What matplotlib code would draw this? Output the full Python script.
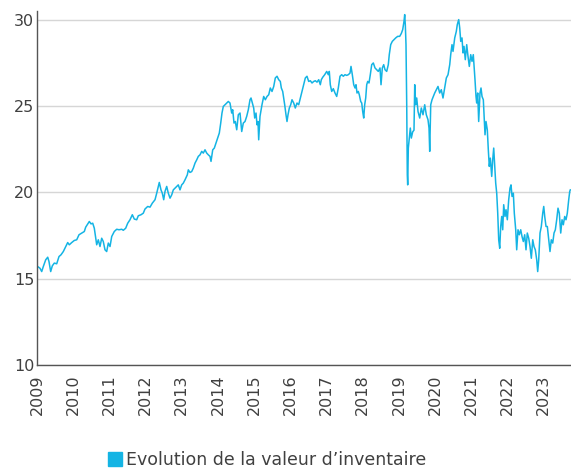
import matplotlib
matplotlib.use("Agg")
import matplotlib.pyplot as plt
import matplotlib.patches as mpatches

# NAV history, dates as decimal years
years = [
    2009.019, 2009.083, 2009.130, 2009.174, 2009.240, 2009.296, 2009.331, 2009.378,
    2009.423, 2009.478, 2009.544, 2009.608, 2009.663, 2009.727, 2009.793, 2009.848,
    2009.892, 2009.959, 2010.030, 2010.097, 2010.160, 2010.235, 2010.307, 2010.345,
    2010.401, 2010.445, 2010.492, 2010.539, 2010.583, 2010.622, 2010.649, 2010.693,
    2010.740, 2010.787, 2010.831, 2010.878, 2010.925, 2010.970, 2011.017,
    2011.064, 2011.135, 2011.202, 2011.265, 2011.340, 2011.384, 2011.450, 2011.506,
    2011.569, 2011.633, 2011.688, 2011.754, 2011.798, 2011.873, 2011.936, 2011.983,
    2012.058, 2012.122, 2012.185, 2012.260, 2012.307, 2012.351, 2012.378, 2012.425,
    2012.461, 2012.500, 2012.536, 2012.583, 2012.627, 2012.674, 2012.721, 2012.765,
    2012.812, 2012.859, 2012.903, 2012.950, 2012.997,
    2013.041, 2013.088, 2013.152, 2013.180, 2013.227, 2013.273, 2013.318, 2013.365,
    2013.412, 2013.456, 2013.503, 2013.550, 2013.594, 2013.641, 2013.688, 2013.732,
    2013.779, 2013.807, 2013.854, 2013.898, 2013.945, 2013.992, 2014.036, 2014.075,
    2014.110, 2014.146, 2014.193, 2014.240, 2014.285, 2014.331, 2014.378, 2014.406,
    2014.442, 2014.478, 2014.517, 2014.561, 2014.608, 2014.655, 2014.699, 2014.746,
    2014.793, 2014.837, 2014.884, 2014.912,
    2014.986, 2015.014, 2015.050, 2015.077, 2015.105, 2015.124, 2015.160, 2015.215,
    2015.262, 2015.307, 2015.354, 2015.401, 2015.445, 2015.492, 2015.539, 2015.583,
    2015.630, 2015.677, 2015.721, 2015.749, 2015.787, 2015.815, 2015.842, 2015.878,
    2015.906, 2015.934, 2015.970, 2016.008, 2016.044, 2016.091, 2016.135, 2016.182,
    2016.229, 2016.274, 2016.320, 2016.367, 2016.412, 2016.458, 2016.505, 2016.550,
    2016.597, 2016.644, 2016.688, 2016.735, 2016.782, 2016.826, 2016.854, 2016.892,
    2016.947,
    2017.003, 2017.047, 2017.074, 2017.102, 2017.141, 2017.185, 2017.232, 2017.279,
    2017.323, 2017.370, 2017.417, 2017.461, 2017.508, 2017.555, 2017.599, 2017.646,
    2017.674, 2017.710, 2017.749, 2017.785, 2017.812, 2017.840, 2017.876, 2017.903,
    2017.942, 2017.970, 2017.997, 2018.025, 2018.052, 2018.080, 2018.108, 2018.135,
    2018.171, 2018.207, 2018.246, 2018.290, 2018.337, 2018.384, 2018.428, 2018.475,
    2018.503, 2018.539, 2018.577, 2018.613, 2018.660, 2018.704, 2018.731, 2018.771,
    2018.815, 2018.862, 2018.909, 2018.964,
    2019.019, 2019.064, 2019.102, 2019.138, 2019.157, 2019.174, 2019.193, 2019.213,
    2019.229, 2019.240, 2019.257, 2019.285, 2019.312, 2019.340, 2019.378, 2019.414,
    2019.434, 2019.461, 2019.489, 2019.525, 2019.572, 2019.616, 2019.663, 2019.710,
    2019.754, 2019.801, 2019.829, 2019.848, 2019.876, 2019.912, 2019.948, 2019.986,
    2020.030, 2020.077, 2020.124, 2020.168, 2020.215, 2020.262, 2020.307, 2020.354,
    2020.401, 2020.428, 2020.464, 2020.492, 2020.539, 2020.583, 2020.610, 2020.649,
    2020.677, 2020.705, 2020.740, 2020.768, 2020.796, 2020.831, 2020.870, 2020.906,
    2020.942, 2020.981, 2021.017, 2021.052,
    2021.099, 2021.127, 2021.146, 2021.174, 2021.201, 2021.237, 2021.265, 2021.293,
    2021.329, 2021.356, 2021.376, 2021.403, 2021.439, 2021.467, 2021.494, 2021.522,
    2021.561, 2021.588, 2021.616, 2021.644, 2021.671, 2021.699, 2021.727, 2021.754,
    2021.782, 2021.809, 2021.837, 2021.865, 2021.892, 2021.928, 2021.956, 2021.992,
    2022.030, 2022.066, 2022.094, 2022.122, 2022.158, 2022.185, 2022.224, 2022.251,
    2022.287, 2022.323, 2022.362, 2022.398, 2022.434, 2022.472, 2022.508, 2022.544,
    2022.583, 2022.619, 2022.655, 2022.694, 2022.729, 2022.765, 2022.804, 2022.831,
    2022.859, 2022.895, 2022.931, 2022.970, 2022.998, 2023.025, 2023.061, 2023.097,
    2023.135, 2023.171, 2023.207, 2023.246, 2023.282, 2023.318, 2023.356, 2023.392,
    2023.428, 2023.467, 2023.503, 2023.539, 2023.577, 2023.613, 2023.649, 2023.688,
    2023.716, 2023.732,
]

nav = [
    15.70, 15.60, 15.41, 15.70, 16.09, 16.24, 15.99, 15.41,
    15.74, 15.90, 15.86, 16.28, 16.38, 16.57, 16.86, 17.09,
    16.96, 17.09, 17.21, 17.25, 17.54, 17.64, 17.73, 17.98,
    18.17, 18.31, 18.17, 18.21, 17.92, 17.34, 16.96, 17.25,
    16.86, 17.34, 17.15, 16.67, 16.57, 17.06, 16.86,
    17.44, 17.73, 17.86, 17.83, 17.86, 17.80, 17.92, 18.21,
    18.41, 18.70, 18.45, 18.41, 18.64, 18.70, 18.79, 19.03,
    19.18, 19.14, 19.37, 19.57, 19.95, 20.34, 20.57, 20.14,
    19.95, 19.57, 20.05, 20.34, 19.95, 19.66, 19.85, 20.14,
    20.24, 20.34, 20.43, 20.14, 20.43,
    20.53, 20.72, 21.01, 21.30, 21.15, 21.20, 21.40, 21.69,
    21.88, 22.08, 22.17, 22.37, 22.27, 22.46, 22.27, 22.17,
    22.08, 21.79, 22.46, 22.56, 22.85, 23.14, 23.43, 24.01,
    24.59, 24.97, 25.07, 25.17, 25.26, 25.17, 24.59, 24.78,
    24.01, 24.10, 23.62, 24.49, 24.59, 23.52, 24.01, 24.10,
    24.40, 24.78, 25.36, 25.46,
    24.88, 24.30, 24.59, 23.91, 24.10, 23.04, 24.40, 25.07,
    25.55, 25.36, 25.55, 25.65, 26.04, 25.84, 26.13, 26.62,
    26.72, 26.52, 26.42, 26.04, 25.84, 25.46, 25.07, 24.49,
    24.10, 24.49, 24.88, 25.07, 25.36, 25.17, 24.88, 25.17,
    25.07, 25.46, 25.84, 26.23, 26.62, 26.72, 26.42, 26.46,
    26.33, 26.42, 26.46, 26.38, 26.52, 26.23, 26.52, 26.66,
    26.81,
    27.00, 26.81, 27.00, 26.23, 25.84, 26.00, 25.75, 25.55,
    26.04, 26.72, 26.81, 26.72, 26.81, 26.77, 26.81, 26.90,
    27.29, 26.81, 26.23, 26.04, 26.23, 25.75, 25.84, 25.65,
    25.26, 25.17, 24.68, 24.30, 25.07, 25.46, 26.23, 26.42,
    26.33, 26.81, 27.39, 27.49, 27.20, 27.10, 27.00, 27.20,
    26.23, 27.20, 27.39, 27.10, 27.00, 27.39, 27.97, 28.55,
    28.74, 28.84, 28.94, 29.03,
    29.03, 29.20, 29.42, 29.90, 30.29, 29.70, 28.55, 25.07,
    21.01, 20.43, 22.56, 23.14, 23.72, 23.14, 23.50, 23.60,
    26.23, 25.07, 25.46, 24.68, 24.30, 24.88, 24.49, 25.07,
    24.49, 24.20, 23.72, 22.37, 25.07, 25.36, 25.55, 25.75,
    25.94, 26.13, 25.75, 25.94, 25.46, 26.04, 26.62, 26.81,
    27.39, 27.97, 28.55, 28.16, 28.94, 29.32, 29.71, 30.00,
    29.52, 28.74, 28.94, 28.07, 28.45, 27.68, 28.55, 27.87,
    27.29, 27.97, 27.58, 27.97,
    26.52, 25.55, 25.17, 25.75, 24.10, 25.75, 26.04, 25.55,
    25.36, 24.20, 23.33, 24.10, 23.62, 22.46, 21.50, 21.98,
    20.92, 21.88, 22.56, 21.50, 20.53, 19.95, 18.79, 17.25,
    16.76, 18.02, 18.60, 17.83, 19.28, 18.60, 18.99, 18.41,
    19.57, 20.24, 20.43, 19.76, 19.95, 18.79, 17.83, 16.67,
    17.83, 17.54, 17.83, 17.44, 17.15, 17.54, 16.67, 17.64,
    17.34, 16.86, 16.18, 17.25, 16.86, 16.67, 16.09, 15.41,
    16.09, 17.64, 18.02, 18.79, 19.18, 18.60, 18.02, 18.02,
    17.25, 16.57, 17.25, 17.06, 17.64, 17.83, 18.41, 19.08,
    18.79, 17.64, 18.41, 18.12, 18.60, 18.41, 18.79, 19.57,
    20.05, 20.14,
]

year_ticks = list(range(2009, 2024))
value_ticks = [10, 15, 20, 25, 30]
series_label = "Evolution de la valeur d\u2019inventaire"

line_color = "#14b4e4"
text_color = "#404040"

plt.rcParams["font.family"] = ["DejaVu Sans"]

fig = plt.figure(figsize=(5.71, 4.71), dpi=100)
ax = fig.add_axes([0.0648, 0.2251, 0.9352, 0.7516])

ax.plot(years, nav, color=line_color, linewidth=1.1)

ax.set_xlim(2009, 2023.751)
ax.set_ylim(10, 30.5)
ax.set_xticks(year_ticks)
ax.set_xticklabels([str(y) for y in year_ticks], rotation=90,
                   fontsize=11.5, color=text_color)
ax.set_yticks(value_ticks)
ax.set_yticklabels([str(v) for v in value_ticks],
                   fontsize=11.5, color=text_color)
ax.tick_params(axis="both", length=0)
ax.tick_params(axis="x", pad=7)
ax.tick_params(axis="y", pad=2)

ax.grid(True, axis="y", color="#d6d6d6", linewidth=1.0)
ax.set_axisbelow(True)
for side in ("top", "right"):
    ax.spines[side].set_visible(False)
for side in ("left", "bottom"):
    ax.spines[side].set_color("#555555")
    ax.spines[side].set_linewidth(1.0)

handle = mpatches.Patch(color=line_color, label=series_label)
leg = fig.legend(handles=[handle], loc="center", bbox_to_anchor=(0.468, 0.023),
                 frameon=False, fontsize=12.5, handlelength=0.8, handleheight=0.8,
                 handletextpad=0.2, borderpad=0)
for t in leg.get_texts():
    t.set_color(text_color)

fig.savefig("out.png", dpi=100)
